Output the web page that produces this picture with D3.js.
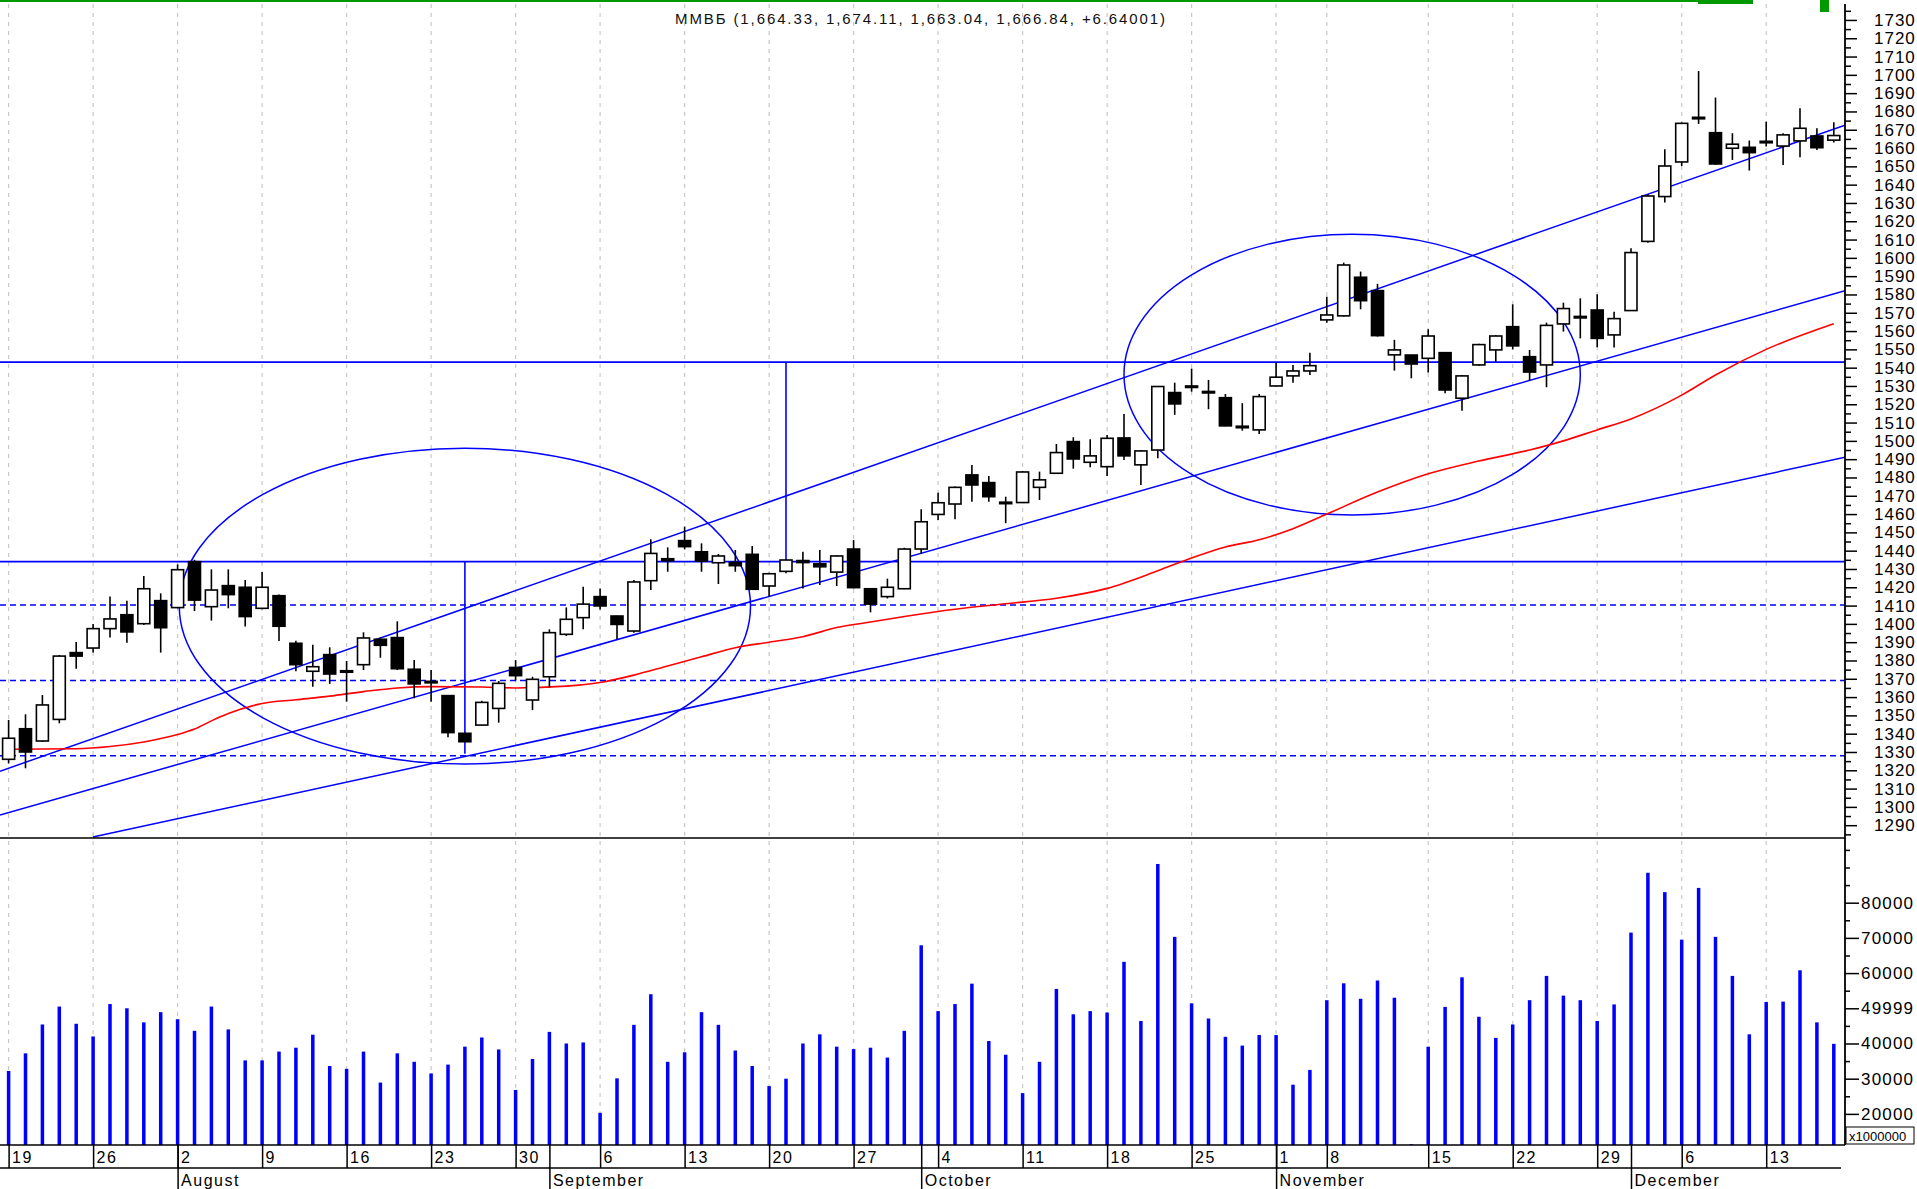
<!DOCTYPE html>
<html>
<head>
<meta charset="utf-8">
<script src="https://cdn.jsdelivr.net/npm/d3@7"></script>
<style>
  body { margin: 0; background: #fff; }
  svg { display: block; }
  text { font-family: "Liberation Sans", Arial, sans-serif; }
</style>
</head>
<body>
<div id="chart"></div>
<script>
// trading days shown (2010)
var dates = [
  "2010-07-19","2010-07-20","2010-07-21","2010-07-22","2010-07-23","2010-07-26","2010-07-27","2010-07-28","2010-07-29","2010-07-30",
  "2010-08-02","2010-08-03","2010-08-04","2010-08-05","2010-08-06","2010-08-09","2010-08-10","2010-08-11","2010-08-12","2010-08-13",
  "2010-08-16","2010-08-17","2010-08-18","2010-08-19","2010-08-20","2010-08-23","2010-08-24","2010-08-25","2010-08-26","2010-08-27",
  "2010-08-30","2010-08-31","2010-09-01","2010-09-02","2010-09-03","2010-09-06","2010-09-07","2010-09-08","2010-09-09","2010-09-10",
  "2010-09-13","2010-09-14","2010-09-15","2010-09-16","2010-09-17","2010-09-20","2010-09-21","2010-09-22","2010-09-23","2010-09-24",
  "2010-09-27","2010-09-28","2010-09-29","2010-09-30","2010-10-01","2010-10-04","2010-10-05","2010-10-06","2010-10-07","2010-10-08",
  "2010-10-11","2010-10-12","2010-10-13","2010-10-14","2010-10-15","2010-10-18","2010-10-19","2010-10-20","2010-10-21","2010-10-22",
  "2010-10-25","2010-10-26","2010-10-27","2010-10-28","2010-10-29","2010-11-01","2010-11-02","2010-11-03","2010-11-08","2010-11-09",
  "2010-11-10","2010-11-11","2010-11-12","2010-11-13","2010-11-15","2010-11-16","2010-11-17","2010-11-18","2010-11-19","2010-11-22",
  "2010-11-23","2010-11-24","2010-11-25","2010-11-26","2010-11-29","2010-11-30","2010-12-01","2010-12-02","2010-12-03","2010-12-06",
  "2010-12-07","2010-12-08","2010-12-09","2010-12-10","2010-12-13","2010-12-14","2010-12-15","2010-12-16","2010-12-17"
];

var open = [
  1326.0,1342.7,1336.0,1347.8,1384.3,1386.8,1397.4,1405.0,1400.1,1412.7,
  1408.9,1434.0,1409.4,1420.9,1420.0,1408.5,1415.4,1389.4,1374.1,1383.2,
  1374.4,1377.7,1391.6,1392.5,1375.2,1368.2,1360.8,1340.2,1344.7,1353.8,
  1376.2,1358.4,1371.1,1394.3,1403.4,1414.9,1404.3,1396.1,1423.6,1435.6,
  1445.5,1439.4,1433.4,1433.6,1438.0,1420.7,1428.7,1434.6,1432.8,1428.3,
  1440.9,1419.2,1414.9,1419.2,1440.9,1459.8,1465.5,1481.4,1477.2,1466.5,
  1466.3,1474.6,1482.3,1499.6,1488.3,1485.9,1501.6,1486.9,1495.0,1526.4,
  1529.5,1527.0,1523.6,1508.0,1506.0,1530.0,1535.5,1538.2,1566.1,1568.3,
  1589.4,1582.1,1547.0,1546.9,1545.1,1548.2,1523.3,1541.5,1549.7,1562.4,
  1546.0,1541.5,1563.9,1568.0,1571.5,1557.9,1571.2,1609.0,1633.5,1652.4,
  1676.8,1668.4,1659.9,1660.4,1663.4,1661.1,1663.9,1666.6,1664.33
];
var high = [
  1347.5,1350.6,1361.1,1383.0,1390.1,1399.9,1414.9,1412.7,1426.2,1416.7,
  1432.5,1435.0,1429.8,1429.8,1424.0,1428.3,1416.0,1390.8,1388.6,1387.2,
  1379.7,1395.4,1392.6,1401.4,1380.3,1374.8,1361.0,1340.5,1358.0,1368.8,
  1380.2,1371.1,1397.0,1409.0,1420.3,1419.4,1404.5,1424.0,1446.2,1441.8,
  1453.1,1444.0,1438.2,1440.4,1442.5,1428.0,1435.5,1439.4,1440.4,1437.5,
  1445.8,1419.5,1424.7,1441.6,1462.6,1471.7,1475.0,1486.8,1480.8,1469.5,
  1483.5,1483.2,1498.3,1502.0,1500.9,1503.2,1514.7,1495.0,1530.0,1531.8,
  1539.5,1533.3,1525.6,1520.6,1525.6,1542.8,1541.5,1548.2,1578.8,1597.4,
  1592.5,1585.8,1555.2,1547.0,1561.0,1548.5,1536.0,1553.0,1557.9,1574.6,
  1549.7,1564.6,1575.5,1577.9,1580.1,1570.6,1605.2,1634.9,1659.3,1674.0,
  1702.1,1687.6,1668.1,1664.1,1674.4,1668.1,1681.7,1670.8,1674.11
];
var low = [
  1323.8,1321.1,1335.5,1345.7,1375.5,1384.3,1392.6,1389.7,1399.4,1384.3,
  1408.5,1407.0,1401.8,1408.5,1398.5,1408.0,1390.6,1374.1,1365.7,1367.2,
  1357.5,1374.8,1381.5,1374.8,1359.3,1357.5,1338.0,1335.5,1344.5,1346.0,
  1369.0,1352.9,1365.3,1393.4,1397.0,1407.9,1391.5,1395.2,1418.5,1428.5,
  1440.7,1428.5,1421.8,1428.5,1418.5,1414.9,1427.6,1419.4,1421.2,1420.7,
  1419.4,1406.3,1413.9,1419.0,1438.2,1456.7,1457.2,1466.8,1466.8,1455.0,
  1466.0,1467.7,1482.0,1484.8,1485.6,1480.8,1489.6,1475.9,1490.5,1514.2,
  1526.9,1517.3,1508.0,1505.6,1503.8,1529.7,1531.8,1536.0,1564.6,1568.0,
  1571.9,1557.0,1538.4,1534.2,1537.3,1526.0,1516.5,1540.9,1543.3,1550.0,
  1532.9,1529.3,1559.7,1556.0,1551.1,1551.0,1571.0,1608.3,1630.2,1650.2,
  1673.2,1650.8,1653.5,1647.7,1660.8,1650.8,1655.0,1659.0,1663.04
];
var close = [
  1337.5,1330.0,1355.7,1382.4,1382.4,1397.4,1402.7,1395.6,1419.2,1397.9,
  1429.6,1413.0,1418.5,1416.0,1404.0,1420.0,1398.7,1377.7,1376.6,1372.6,
  1374.0,1392.3,1388.3,1375.5,1367.2,1368.6,1340.6,1335.6,1357.1,1367.5,
  1371.7,1369.7,1395.2,1402.5,1410.8,1409.8,1399.7,1422.9,1438.5,1434.5,
  1442.2,1434.3,1437.1,1431.8,1418.9,1427.4,1434.9,1433.5,1431.2,1437.1,
  1419.8,1410.8,1420.0,1440.9,1455.8,1466.2,1474.6,1475.9,1469.5,1465.8,
  1483.0,1478.7,1493.6,1490.1,1491.8,1501.4,1491.8,1494.5,1529.7,1520.2,
  1530.0,1526.6,1508.2,1507.8,1524.2,1534.8,1538.2,1541.1,1568.8,1596.1,
  1576.6,1557.5,1549.7,1542.0,1557.3,1527.8,1535.5,1552.6,1557.3,1551.9,
  1537.6,1563.1,1572.3,1567.9,1556.0,1566.8,1602.9,1633.8,1650.2,1673.5,
  1676.0,1651.3,1662.1,1657.5,1663.7,1667.2,1670.8,1660.2,1666.84
];
// volume, shown x1000000
var volume = [
  32200,37200,45400,50500,45600,42000,51200,50000,46000,48900,
  46900,43600,50500,44000,35200,35200,37700,38800,42500,33600,
  32800,37700,28900,37200,34800,31500,34000,39100,41700,38300,
  26800,35600,43300,40000,40300,20300,30100,45300,54000,34800,
  37500,48900,45300,38000,33600,27900,30000,40000,42600,39100,
  38400,38800,36000,43600,67900,49200,51200,57000,40700,36800,
  25900,34800,55500,48300,49200,48800,63200,46400,91000,70300,
  51400,47100,41900,39400,42400,42400,28300,32500,52300,57100,
  52700,57900,53000,11400,39100,50400,58800,47600,41600,45400,
  52300,59200,53600,52300,46400,51100,71500,88500,83000,69500,
  84200,70300,59200,42600,51800,51900,60800,46000,39900
];

// moving average (day index, value)
var maIndex = [0,4,6,8,10,11,12,13,15,17,19,21,23,25,28,30,33,35,37,39,41,43,45,47,49,51,53,56,59,62,65,68,70,72,74,76,78,81,84,87,90,92,94,96,99,101,104,108];
var maValue = [1331.5,1331.8,1333,1335.5,1339.5,1342.5,1347,1351,1356.5,1358.5,1360.5,1363,1365,1365.7,1365.5,1365,1366,1368,1372,1377,1382,1387,1390,1393,1398,1401,1404,1408,1411,1414,1419.4,1429,1436,1442,1446,1452,1460,1472,1482,1489,1495,1500,1506,1512,1525,1536,1550,1564];

// drawn annotations: trend lines [i0, p0, i1, p1]
var trendLines = [
  [-0.51, 1319.5, 108.66, 1672.5],
  [-0.51, 1295.6, 108.66, 1582.0],
  [4.99, 1283.5, 108.66, 1491.0]
];
var solidLevels = [1434, 1543];
var dashedLevels = [1410.3, 1369, 1328];
// vertical measure lines [index, fromPrice, toPrice]
var measureLines = [[27, 1434, 1329], [46, 1543, 1434]];
// ellipses [centerIndex, centerPrice, radiusIndex, radiusPrice]
var ellipses = [[27, 1409.7, 16.9, 86.3], [79.5, 1536.2, 13.5, 76.7]];

var priceTicks = [1290,1300,1310,1320,1330,1340,1350,1360,1370,1380,1390,1400,1410,1420,1430,1440,1450,1460,1470,1480,1490,1500,1510,1520,1530,1540,1550,1560,1570,1580,1590,1600,1610,1620,1630,1640,1650,1660,1670,1680,1690,1700,1710,1720,1730];
var volTicks = [20000, 30000, 40000, 50000, 60000, 70000, 80000];
var volTickLabels = ["20000", "30000", "40000", "49999", "60000", "70000", "80000"];
var monthNames = ["January","February","March","April","May","June","July","August","September","October","November","December"];
var title = "ММВБ (1,664.33, 1,674.11, 1,663.04, 1,666.84, +6.64001)";

var width = 1917, height = 1189;
var plotRight = 1845, priceBottom = 838, volBottom = 1145;

var parseDate = d3.timeParse("%Y-%m-%d");
var days = dates.map(parseDate);

var x = d3.scaleLinear().domain([0, dates.length - 1]).range([8.6, 1833.8]);
var y = d3.scaleLinear().domain([1283, 1740.9]).range([priceBottom, 0]);
var yv = d3.scaleLinear().domain([11160, 98380]).range([volBottom, priceBottom]);

var mondays = d3.range(dates.length).filter(i => days[i].getDay() === 1);
var monthStarts = d3.range(1, dates.length).filter(i => days[i].getMonth() !== days[i - 1].getMonth());

var svg = d3.select("#chart").append("svg")
    .attr("width", width)
    .attr("height", height)
    .attr("viewBox", [0, 0, width, height]);

svg.append("rect").attr("width", width).attr("height", height).attr("fill", "#fff");

svg.append("clipPath").attr("id", "clipPrice")
  .append("rect").attr("x", 0).attr("y", 0).attr("width", plotRight).attr("height", priceBottom);

// top green strip
svg.append("line").attr("x1", 0).attr("x2", 1700).attr("y1", 1).attr("y2", 1)
    .attr("stroke", "#009a00").attr("stroke-width", 2);
svg.append("rect").attr("x", 1698).attr("y", 0).attr("width", 55).attr("height", 4).attr("fill", "#009a00");
svg.append("rect").attr("x", 1820).attr("y", 0).attr("width", 9).attr("height", 12).attr("fill", "#009a00");

// weekly grid
svg.append("g")
  .selectAll("line")
  .data(mondays)
  .join("line")
    .attr("x1", d => x(d)).attr("x2", d => x(d))
    .attr("y1", 4).attr("y2", volBottom)
    .attr("stroke", "#c8c8c8")
    .attr("stroke-width", 1.2)
    .attr("stroke-dasharray", "4,5");

// title
svg.append("text")
    .attr("x", 920).attr("y", 24)
    .attr("text-anchor", "middle")
    .attr("font-size", 15)
    .attr("textLength", 490)
    .attr("lengthAdjust", "spacing")
    .attr("fill", "#111")
    .text(title);

var ann = svg.append("g").attr("clip-path", "url(#clipPrice)")
    .attr("fill", "none").attr("stroke", "#0000ff");

ann.selectAll(".lvl")
  .data(dashedLevels)
  .join("line")
    .attr("x1", 0).attr("x2", plotRight)
    .attr("y1", d => y(d)).attr("y2", d => y(d))
    .attr("stroke-width", 1.5)
    .attr("stroke-dasharray", "6,4");

ann.selectAll(".solid")
  .data(solidLevels)
  .join("line")
    .attr("x1", 0).attr("x2", plotRight)
    .attr("y1", d => y(d)).attr("y2", d => y(d))
    .attr("stroke-width", 1.8);

ann.selectAll(".measure")
  .data(measureLines)
  .join("line")
    .attr("x1", d => x(d[0])).attr("x2", d => x(d[0]))
    .attr("y1", d => y(d[1])).attr("y2", d => y(d[2]))
    .attr("stroke-width", 1.6);

ann.selectAll(".trend")
  .data(trendLines)
  .join("line")
    .attr("x1", d => x(d[0])).attr("y1", d => y(d[1]))
    .attr("x2", d => x(d[2])).attr("y2", d => y(d[3]))
    .attr("stroke-width", 1.5);

ann.selectAll(".ell")
  .data(ellipses)
  .join("ellipse")
    .attr("cx", d => x(d[0])).attr("cy", d => y(d[1]))
    .attr("rx", d => x(d[0] + d[2]) - x(d[0]))
    .attr("ry", d => y(d[1] - d[3]) - y(d[1]))
    .attr("stroke-width", 1.5);

// moving average
var ma = d3.line()
    .x(d => x(d[0]))
    .y(d => y(d[1]))
    .curve(d3.curveMonotoneX);

svg.append("path")
    .datum(d3.zip(maIndex, maValue))
    .attr("fill", "none")
    .attr("stroke", "#ff0000")
    .attr("stroke-width", 1.6)
    .attr("d", ma);

// candles
var candles = svg.append("g").attr("clip-path", "url(#clipPrice)");
var idx = d3.range(dates.length);

candles.selectAll(".wick")
  .data(idx)
  .join("line")
    .attr("x1", i => x(i)).attr("x2", i => x(i))
    .attr("y1", i => y(high[i])).attr("y2", i => y(low[i]))
    .attr("stroke", "#000")
    .attr("stroke-width", 1.6);

candles.selectAll(".body")
  .data(idx)
  .join("rect")
    .attr("x", i => x(i) - 6)
    .attr("width", 12)
    .attr("y", i => y(Math.max(open[i], close[i])))
    .attr("height", i => Math.max(1.5, Math.abs(y(open[i]) - y(close[i]))))
    .attr("fill", i => close[i] >= open[i] ? "#fff" : "#000")
    .attr("stroke", "#000")
    .attr("stroke-width", 1.6);

// volume bars
svg.append("g")
  .selectAll("rect")
  .data(idx)
  .join("rect")
    .attr("x", i => x(i) - 1.75)
    .attr("width", 3.5)
    .attr("y", i => yv(volume[i]))
    .attr("height", i => volBottom - yv(volume[i]))
    .attr("fill", "#0000ff");

// panel frame lines
svg.append("line").attr("x1", 0).attr("x2", plotRight).attr("y1", priceBottom).attr("y2", priceBottom)
    .attr("stroke", "#000").attr("stroke-width", 1.5);

// price axis
var minorPrice = priceTicks.map(d => d - 5).concat([1735]);
svg.append("g")
    .attr("transform", `translate(${plotRight},0)`)
    .call(d3.axisRight(y).tickValues(minorPrice).tickSize(6).tickSizeOuter(0).tickFormat(""))
    .call(g => g.select(".domain").remove())
    .selectAll("line").attr("stroke-width", 1.5);

var pAxis = svg.append("g")
    .attr("transform", `translate(${plotRight},0)`)
    .call(d3.axisRight(y).tickValues(priceTicks).tickSize(12).tickPadding(17).tickSizeOuter(0)
      .tickFormat(d3.format("d")));
pAxis.select(".domain").remove();
pAxis.selectAll("line").attr("stroke-width", 1.5);
pAxis.selectAll("text")
    .attr("font-size", 17)
    .style("letter-spacing", "1px")
    .attr("fill", "#000");

// volume axis
var minorVol = [15000, 25000, 35000, 45000, 55000, 65000, 75000, 85000, 90000, 95000];
svg.append("g")
    .attr("transform", `translate(${plotRight},0)`)
    .call(d3.axisRight(yv).tickValues(minorVol).tickSize(5).tickSizeOuter(0).tickFormat(""))
    .call(g => g.select(".domain").remove())
    .selectAll("line").attr("stroke-width", 1.5);

var vAxis = svg.append("g")
    .attr("transform", `translate(${plotRight},0)`)
    .call(d3.axisRight(yv).tickValues(volTicks).tickSize(14).tickPadding(2).tickSizeOuter(0)
      .tickFormat((d, i) => volTickLabels[i]));
vAxis.select(".domain").remove();
vAxis.selectAll("line").attr("stroke-width", 1.5);
vAxis.selectAll("text")
    .attr("font-size", 17)
    .style("letter-spacing", "1.2px")
    .attr("fill", "#000");

svg.append("line").attr("x1", plotRight).attr("x2", plotRight).attr("y1", 4).attr("y2", volBottom)
    .attr("stroke", "#000").attr("stroke-width", 1.8);

svg.append("rect").attr("x", plotRight + 1).attr("y", 1127).attr("width", 68).attr("height", 17)
    .attr("fill", "#fff").attr("stroke", "#000").attr("stroke-width", 1);
svg.append("text").attr("x", plotRight + 4).attr("y", 1141).attr("font-size", 13).text("x1000000");

// date axis
svg.append("line").attr("x1", 0).attr("x2", plotRight).attr("y1", volBottom).attr("y2", volBottom)
    .attr("stroke", "#000").attr("stroke-width", 1.5);
svg.append("line").attr("x1", 0).attr("x2", 1841).attr("y1", 1168).attr("y2", 1168)
    .attr("stroke", "#000").attr("stroke-width", 1.5);

var dAxis = svg.append("g")
    .attr("transform", `translate(0,${volBottom})`)
    .call(d3.axisBottom(x).tickValues(mondays).tickSize(23).tickSizeOuter(0)
      .tickFormat(i => days[i].getDate()));
dAxis.select(".domain").remove();
dAxis.selectAll("line").attr("stroke-width", 1.5);
dAxis.selectAll("text")
    .attr("text-anchor", "start")
    .attr("x", 3).attr("y", 18).attr("dy", 0)
    .attr("font-size", 16)
    .style("letter-spacing", "1.5px")
    .attr("fill", "#000");

var mAxis = svg.append("g")
    .attr("transform", `translate(0,${volBottom})`)
    .call(d3.axisBottom(x).tickValues(monthStarts).tickSize(44).tickSizeOuter(0)
      .tickFormat(i => monthNames[days[i].getMonth()]));
mAxis.select(".domain").remove();
mAxis.selectAll("line").attr("stroke-width", 1.5);
mAxis.selectAll("text")
    .attr("text-anchor", "start")
    .attr("x", 3).attr("y", 41).attr("dy", 0)
    .attr("font-size", 16)
    .style("letter-spacing", "1.5px")
    .attr("fill", "#000");
</script>
</body>
</html>
